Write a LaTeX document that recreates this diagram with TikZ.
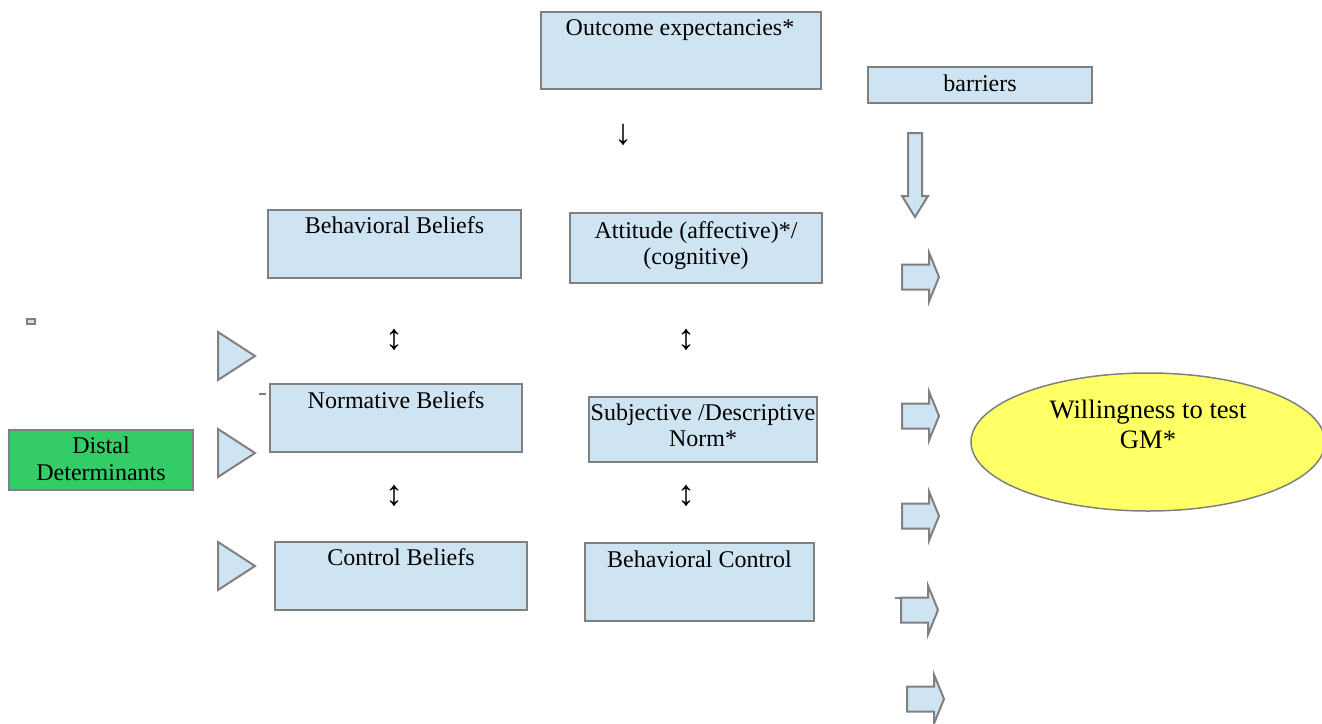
\documentclass[tikz,border=0pt]{standalone}
\usepackage{fontspec}
\setmainfont{Liberation Serif}
\newfontfamily\lserif{Liberation Serif}
\usetikzlibrary{shapes.geometric}
\definecolor{boxblue}{HTML}{CFE4F2}
\definecolor{boxgray}{HTML}{808080}
\definecolor{dgreen}{HTML}{33CC66}
\definecolor{ylw}{HTML}{FFFF66}
\tikzset{
  box/.style={draw=boxgray, line width=1pt, fill=boxblue, rectangle, inner sep=0pt},
  txt/.style={anchor=base, inner sep=0pt, font=\lserif\fontsize{12}{13}\selectfont},
  blk/.style={draw=boxgray, line width=1pt, fill=boxblue, line join=miter},
  rarrow/.pic={\draw[blk] (0,-12.5) -- (27,-12.5) -- (27,-24.5) -- (37,0) -- (27,24.5) -- (27,12.5) -- (0,12.5) -- cycle;},
  tri/.pic={\draw[blk] (0,-24) -- (37,0) -- (0,24) -- cycle;},
  glyph/.style={inner sep=0pt, font=\lserif\fontsize{18}{19}\selectfont}
}
\begin{document}
\begin{tikzpicture}[x=0.5pt, y=-0.5pt]
\useasboundingbox (0,0) rectangle (1322,723);
% boxes
\node[box, minimum width=140pt, minimum height=38.5pt] (oe) at (681,50.5) {};
\node[txt] (oet) at (680,35) {Outcome expectancies*};
\node[box, minimum width=112pt, minimum height=18pt] (bar) at (980,85) {};
\node[txt] (bart) at (980,91) {barriers};
\node[box, minimum width=126.5pt, minimum height=34pt] (bb) at (394.5,244) {};
\node[txt] (bbt) at (394.5,233) {Behavioral Beliefs};
\node[box, minimum width=126pt, minimum height=35pt] (att) at (696,248) {};
\node[txt] (att1) at (696,238) {Attitude (affective)*/};
\node[txt] (att2) at (696,264) {(cognitive)};
\node[box, minimum width=126pt, minimum height=34pt] (nb) at (396,418) {};
\node[txt] (nbt) at (396,408) {Normative Beliefs};
\node[box, minimum width=114pt, minimum height=32.5pt] (sn) at (703,429.5) {};
\node[txt] (sn1) at (703,420) {Subjective /Descriptive};
\node[txt] (sn2) at (703,446) {Norm*};
\node[box, minimum width=126pt, minimum height=34pt] (cb) at (401,576) {};
\node[txt] (cbt) at (401,565) {Control Beliefs};
\node[box, minimum width=114.5pt, minimum height=39pt] (bc) at (699.5,582) {};
\node[txt] (bct) at (699.5,567) {Behavioral Control};
\node[box, fill=dgreen, minimum width=92pt, minimum height=30pt] (dd) at (101,460) {};
\node[txt] (dd1) at (101,453) {Distal};
\node[txt] (dd2) at (101,480) {Determinants};
% ellipse
\node[ellipse, draw=boxgray, line width=0.75pt, fill=ylw, minimum width=177pt, minimum height=69pt, inner sep=0pt] (wt) at (1148,442) {};
\node[txt, font=\lserif\fontsize{13.3}{15}\selectfont] (wt1) at (1148,418) {Willingness to test};
\node[txt, font=\lserif\fontsize{13.3}{15}\selectfont] (wt2) at (1148,448) {GM*};
% glyph arrows
\node[glyph] (g0) at (623,135) {↓};
\node[glyph] (g1) at (394,340) {↕};
\node[glyph] (g2) at (686,340) {↕};
\node[glyph] (g3) at (394,496) {↕};
\node[glyph] (g4) at (686,496) {↕};
% down block arrow
\draw[blk] (908,133) -- (922,133) -- (922,196) -- (928,196) -- (915,217) -- (902,196) -- (908,196) -- cycle;
% right block arrows
\pic (ra1) at (902,277) {rarrow};
\pic (ra2) at (902,416) {rarrow};
\pic (ra3) at (902,516) {rarrow};
\pic (ra4) at (901,610) {rarrow};
\pic (ra5) at (907,699) {rarrow};
% triangles
\pic (tr1) at (218,356) {tri};
\pic (tr2) at (218,453) {tri};
\pic (tr3) at (218,566) {tri};
% small marks
\draw[draw=boxgray, line width=1pt, fill=boxblue] (27,319) rectangle (35,324);
\draw[boxgray, line width=1pt] (259,394) -- (266,394);
\draw[boxgray, line width=1.2pt] (895,598) -- (902,598);
\end{tikzpicture}
\end{document}
